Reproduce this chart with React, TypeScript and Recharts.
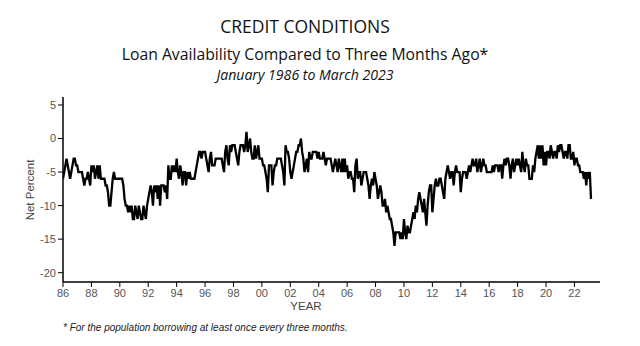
import React from 'react';
import { LineChart, Line, XAxis, YAxis } from 'recharts';

// Monthly net percent, Jan 1986 .. Mar 2023 (one array per year)
const y1986 = [-6, -5, -4, -3, -4, -5, -6, -5, -4, -3, -3, -4];
const y1987 = [-4, -5, -5, -5, -5, -6, -7, -6, -6, -5, -6, -7];
const y1988 = [-4, -5, -4, -6, -5, -4, -6, -4, -6, -6, -6, -6];
const y1989 = [-7, -7, -8, -10, -10, -8, -6, -5, -6, -6, -6, -6];
const y1990 = [-6, -6, -6, -7, -9, -10, -10, -11, -10, -11, -10, -12];
const y1991 = [-12, -10, -11, -12, -10, -11, -12, -12, -10, -11, -12, -10];
const y1992 = [-9, -8, -7, -8, -10, -7, -8, -7, -9, -7, -10, -7];
const y1993 = [-7, -7, -8, -7, -9, -4, -6, -6, -4, -5, -4, -5];
const y1994 = [-3, -5, -6, -4, -5, -7, -5, -5, -7, -5, -6, -5];
const y1995 = [-6, -6, -6, -6, -5, -4, -3, -2, -2, -3, -2, -2];
const y1996 = [-2, -3, -4, -5, -3, -2, -4, -4, -4, -3, -3, -3];
const y1997 = [-3, -3, -3, -4, -5, -2, -1, -3, -4, -1, -2, -1];
const y1998 = [-1, -1, -2, -3, -4, -2, -1, -1, -1, -2, -1, 1];
const y1999 = [-2, -1, 0, -2, -3, -3, -1, -3, -2, -1, -3, -3];
const y2000 = [-3, -4, -4, -5, -6, -8, -4, -4, -4, -7, -5, -4];
const y2001 = [-4, -3, -3, -3, -3, -4, -5, -7, -1, -2, -2, -3];
const y2002 = [-5, -6, -5, -4, -3, -2, -2, -1, -1, 0, -2, -3];
const y2003 = [-5, -4, -3, -5, -2, -3, -3, -2, -2, -2, -2, -3];
const y2004 = [-2, -3, -3, -3, -2, -3, -4, -3, -3, -3, -3, -4];
const y2005 = [-5, -4, -3, -4, -5, -3, -4, -5, -3, -5, -3, -5];
const y2006 = [-4, -6, -5, -5, -6, -6, -8, -4, -3, -6, -5, -5];
const y2007 = [-7, -6, -5, -5, -5, -6, -7, -9, -7, -6, -7, -5];
const y2008 = [-6, -7, -9, -8, -7, -8, -10, -10, -9, -11, -10, -11];
const y2009 = [-12, -12, -13, -14, -16, -14, -14, -14, -14, -15, -14, -15];
const y2010 = [-12, -14, -15, -13, -14, -14, -13, -12, -11, -12, -10, -11];
const y2011 = [-9, -8, -9, -10, -11, -9, -11, -13, -10, -8, -7, -7];
const y2012 = [-11, -9, -7, -6, -7, -7, -6, -6, -7, -8, -9, -6];
const y2013 = [-5, -4, -5, -6, -5, -5, -7, -5, -4, -5, -5, -5];
const y2014 = [-8, -6, -5, -5, -5, -6, -5, -4, -5, -4, -3, -4];
const y2015 = [-4, -3, -5, -4, -3, -5, -4, -3, -4, -4, -5, -5];
const y2016 = [-5, -5, -5, -4, -5, -4, -4, -4, -5, -4, -4, -6];
const y2017 = [-4, -3, -4, -3, -3, -4, -6, -4, -3, -5, -4, -3];
const y2018 = [-4, -3, -4, -5, -2, -4, -5, -3, -4, -4, -6, -6];
const y2019 = [-6, -4, -5, -3, -2, -1, -3, -1, -3, -1, -4, -2];
const y2020 = [-4, -2, -2, -3, -1, -2, -3, -2, -2, -3, -1, -2];
const y2021 = [-1, -1, -2, -3, -2, -2, -3, -1, -1, -3, -3, -2];
const y2022 = [-4, -3, -3, -4, -4, -5, -5, -5, -6, -5, -7, -5];
const y2023 = [-6, -5, -9];

const years = [
  y1986, y1987, y1988, y1989, y1990, y1991, y1992, y1993, y1994, y1995,
  y1996, y1997, y1998, y1999, y2000, y2001, y2002, y2003, y2004, y2005,
  y2006, y2007, y2008, y2009, y2010, y2011, y2012, y2013, y2014, y2015,
  y2016, y2017, y2018, y2019, y2020, y2021, y2022, y2023,
];
const firstYear = 1986;

const xTicks = [1986, 1988, 1990, 1992, 1994, 1996, 1998, 2000, 2002, 2004, 2006, 2008, 2010, 2012, 2014, 2016, 2018, 2020, 2022];
const yTicks = [5, 0, -5, -10, -15, -20];

const data: { t: number; v: number }[] = [];
years.forEach((arr, i) => {
  arr.forEach((v, m) => {
    data.push({ t: firstYear + i + m / 12, v });
  });
});

const axisFont = '"Liberation Sans", Arial, sans-serif';
const titleFont = '"Open Sans", "Noto Sans", sans-serif';

export default function App() {
  return (
    <div style={{ position: 'absolute', left: 0, top: 0, width: 640, height: 346, background: '#fff', overflow: 'hidden' }}>
      <div style={{ position: 'absolute', left: 0, width: 610, top: 15.5, lineHeight: '20px', textAlign: 'center', fontFamily: titleFont, fontSize: 17.5, color: '#111', whiteSpace: 'nowrap' }}>
        CREDIT CONDITIONS
      </div>
      <div style={{ position: 'absolute', left: 0, width: 610, top: 45.6, lineHeight: '17px', textAlign: 'center', fontFamily: titleFont, fontSize: 15.75, color: '#111', whiteSpace: 'nowrap' }}>
        Loan Availability Compared to Three Months Ago*
      </div>
      <div style={{ position: 'absolute', left: 0, width: 610, top: 67.2, lineHeight: '15px', textAlign: 'center', fontFamily: titleFont, fontSize: 14.1, fontStyle: 'italic', color: '#111', whiteSpace: 'nowrap' }}>
        January 1986 to March 2023
      </div>
      <div style={{ position: 'absolute', left: 0, top: 0 }}>
        <LineChart width={640} height={346} data={data} margin={{ top: 97, right: 40, bottom: 34, left: 13 }}>
          <XAxis
            dataKey="t"
            type="number"
            domain={[1986, 2023.8]}
            ticks={xTicks}
            interval={0}
            tickFormatter={(v: number) => String(v % 100).padStart(2, '0')}
            tick={{ fill: '#555', fontSize: 11, fontFamily: axisFont }}
            tickSize={5}
            axisLine={{ stroke: '#000', strokeWidth: 1.5 }}
            tickLine={{ stroke: '#000', strokeWidth: 1 }}
            height={30}
            allowDataOverflow
          />
          <YAxis
            type="number"
            domain={[-21.39, 6.19]}
            ticks={yTicks}
            interval={0}
            tick={{ fill: '#555', fontSize: 11, fontFamily: axisFont }}
            tickSize={5}
            axisLine={{ stroke: '#000', strokeWidth: 1.5 }}
            tickLine={{ stroke: '#000', strokeWidth: 1 }}
            width={50}
            allowDataOverflow
          />
          <Line
            type="linear"
            dataKey="v"
            stroke="#000"
            strokeWidth={2.3}
            dot={false}
            isAnimationActive={false}
          />
        </LineChart>
      </div>
      <div style={{ position: 'absolute', left: 306, top: 300, transform: 'translateX(-50%)', fontFamily: axisFont, fontSize: 11.5, color: '#444' }}>
        YEAR
      </div>
      <div style={{ position: 'absolute', left: 30, top: 190, transform: 'translate(-50%, -50%) rotate(-90deg)', fontFamily: axisFont, fontSize: 11.5, color: '#444', whiteSpace: 'nowrap' }}>
        Net Percent
      </div>
      <div style={{ position: 'absolute', left: 63, top: 322, fontFamily: axisFont, fontSize: 10, fontStyle: 'italic', color: '#222', whiteSpace: 'nowrap' }}>
        * For the population borrowing at least once every three months.
      </div>
    </div>
  );
}
